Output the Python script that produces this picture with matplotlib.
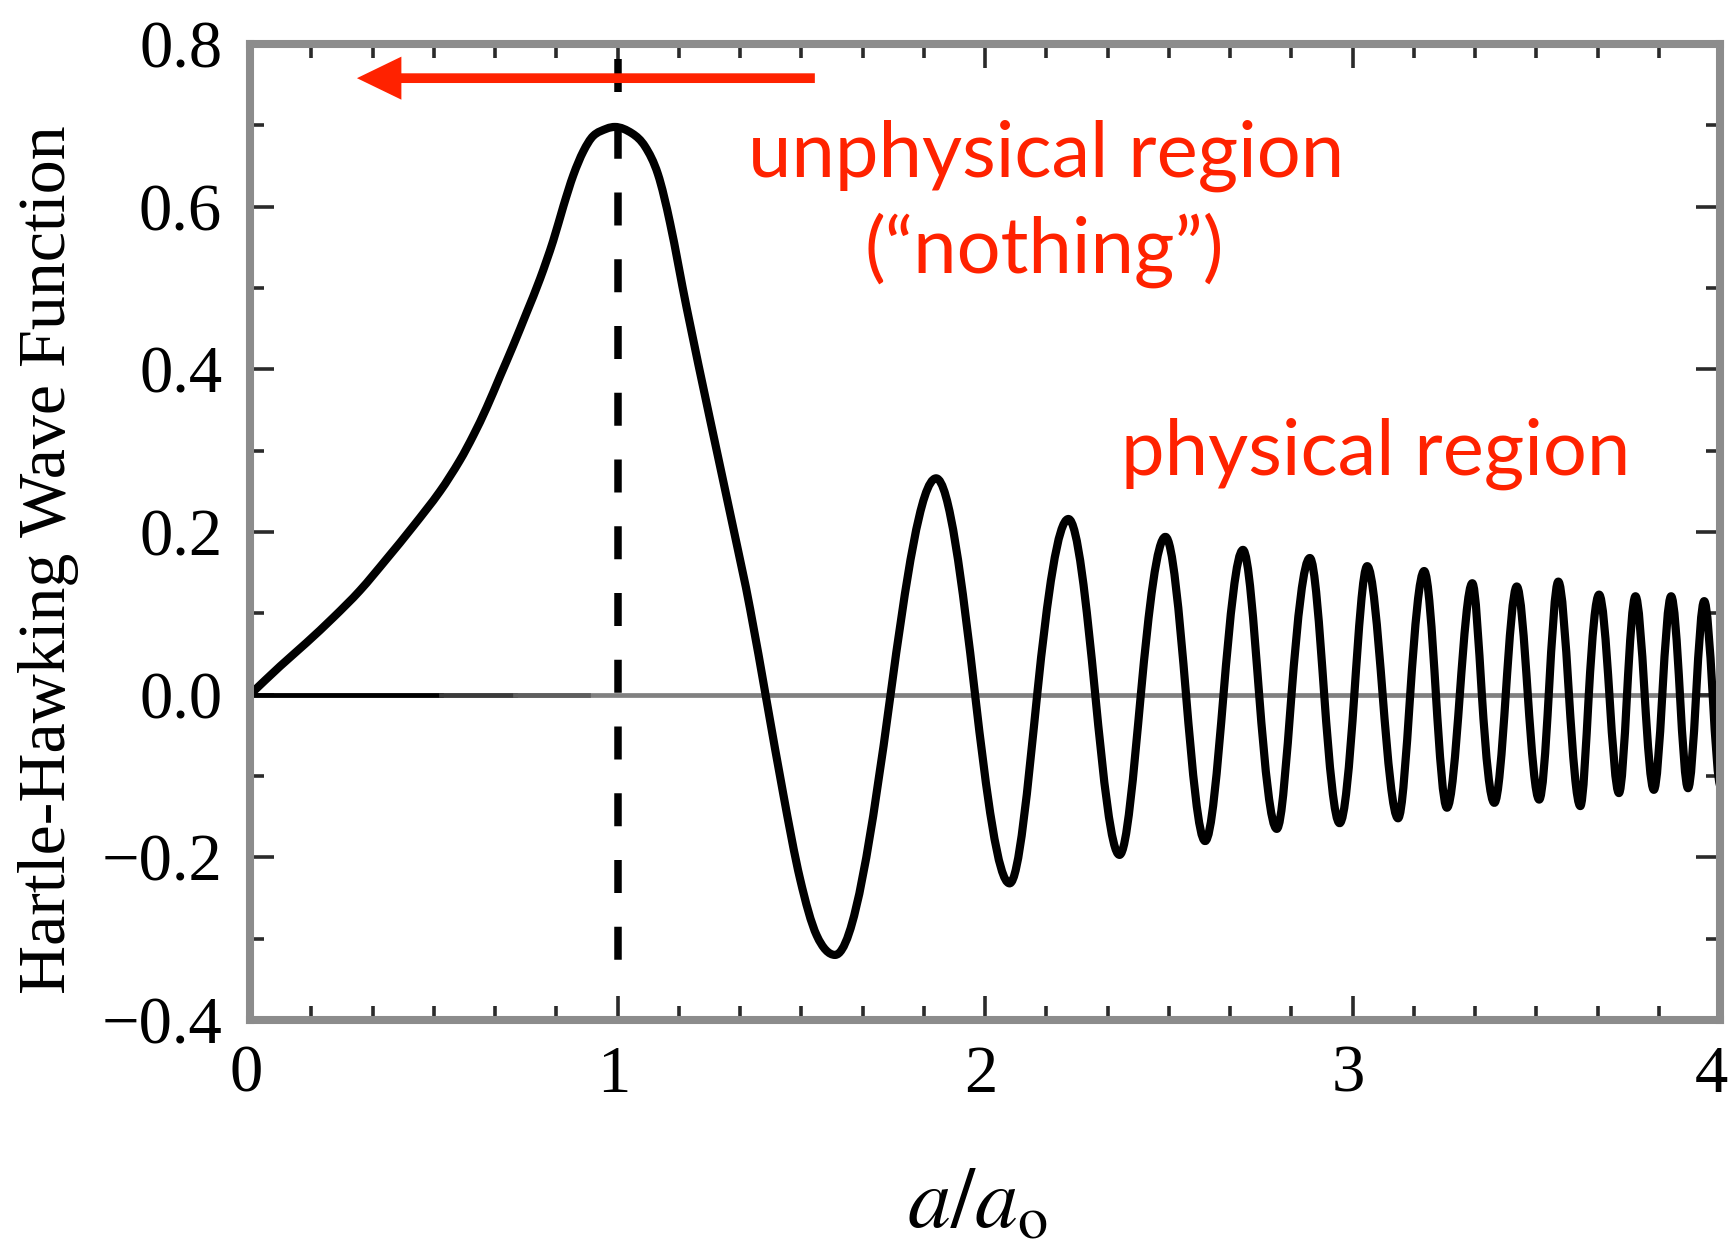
import matplotlib
matplotlib.use("Agg")
import matplotlib.pyplot as plt
from matplotlib.path import Path
from matplotlib.patches import PathPatch, FancyArrowPatch
from matplotlib.ticker import MultipleLocator
from matplotlib.transforms import ScaledTranslation

# values
# first lobe (rise, peak at a = a0, first descent), dense points
lobe_x = [0.000, 0.082, 0.154, 0.227, 0.299, 0.372, 0.444, 0.517, 0.571, 0.608,
          0.644, 0.680, 0.716, 0.753, 0.789, 0.825, 0.853, 0.880, 0.907, 0.934,
          0.971, 0.993, 1.040, 1.075, 1.110, 1.143, 1.188, 1.252, 1.315, 1.361,
          1.451, 1.497, 1.542]
lobe_y = [0.000, 0.035, 0.064, 0.095, 0.128, 0.167, 0.207, 0.250, 0.288, 0.319,
          0.353, 0.391, 0.429, 0.470, 0.511, 0.558, 0.601, 0.639, 0.668, 0.687,
          0.696, 0.698, 0.690, 0.674, 0.640, 0.580, 0.476, 0.338, 0.205, 0.105,
          -0.122, -0.227, -0.296]

# oscillating part: extrema and the zero crossings between them
ext_x = [1.592, 1.867, 2.067, 2.227, 2.366, 2.491, 2.599, 2.702, 2.794, 2.884,
         2.965, 3.040, 3.124, 3.195, 3.257, 3.326, 3.386, 3.447, 3.508, 3.560,
         3.620, 3.671, 3.725, 3.770, 3.820, 3.867, 3.913, 3.957, 4.002]
ext_y = [-0.320, 0.266, -0.232, 0.216, -0.197, 0.194, -0.180, 0.178, -0.165, 0.168,
         -0.158, 0.158, -0.152, 0.152, -0.139, 0.137, -0.133, 0.133, -0.129, 0.139,
         -0.137, 0.123, -0.121, 0.121, -0.117, 0.121, -0.115, 0.115, -0.113]
zero_x = [1.743, 1.973, 2.142, 2.300, 2.424, 2.547, 2.649, 2.746, 2.834, 2.923,
          3.005, 3.082, 3.157, 3.227, 3.292, 3.352, 3.417, 3.477, 3.534, 3.589,
          3.643, 3.699, 3.747, 3.795, 3.843, 3.891, 3.935, 3.980]

xticks = [0, 1, 2, 3, 4]
xtick_labels = ["0", "1", "2", "3", "4"]
yticks = [-0.4, -0.2, 0.0, 0.2, 0.4, 0.6, 0.8]
ytick_labels = ["\u22120.4", "\u22120.2", "0.0", "0.2", "0.4", "0.6", "0.8"]

a0_line = 1.0
arrow_from = (1.537, 0.758)
arrow_to = (0.291, 0.758)

RED = "#ff2200"
FRAME = "#8c8c8c"
# the zero line fades from black to gray along the axis (axes fractions)
zero_fade = [(0.00, 0.13, "black"), (0.13, 0.18, "#3a3a3a"), (0.18, 0.23, "#5e5e5e")]

plt.rcParams["font.family"] = ["Liberation Serif", "DejaVu Serif"]
plt.rcParams["mathtext.fontset"] = "stix"


# join the read points into one smooth path (cubic hermite pieces)
def smooth_path(xs, ys, ks):
    n = len(xs)
    m = []
    for i in range(n):
        if i == 0:
            m.append((ys[1] - ys[0]) / (xs[1] - xs[0]))
        elif i == n - 1:
            m.append(0.0)
        elif (ys[i] - ys[i-1]) * (ys[i+1] - ys[i]) <= 0:
            m.append(0.0)
        else:
            m.append(ks[i] * (ys[i+1] - ys[i-1]) / (xs[i+1] - xs[i-1]))
    verts = [(xs[0], ys[0])]
    codes = [Path.MOVETO]
    for i in range(n - 1):
        dx = xs[i+1] - xs[i]
        verts += [(xs[i] + dx / 3, ys[i] + m[i] * dx / 3),
                  (xs[i+1] - dx / 3, ys[i+1] - m[i+1] * dx / 3),
                  (xs[i+1], ys[i+1])]
        codes += [Path.CURVE4] * 3
    return Path(verts, codes)


node_x = list(lobe_x)
node_y = list(lobe_y)
node_k = [1.0] * len(lobe_x)
for i in range(len(ext_x)):
    node_x.append(ext_x[i])
    node_y.append(ext_y[i])
    node_k.append(1.0)
    if i < len(zero_x):
        node_x.append(zero_x[i])
        node_y.append(0.0)
        node_k.append(1.57)

fig = plt.figure(figsize=(17.28, 12.49), dpi=100)
ax = fig.add_axes([250 / 1728, 1 - 1020 / 1249, 1470 / 1728, 976 / 1249])

ax.axhline(0, color="#808080", lw=3.4, zorder=1.5)
for x0, x1, c in zero_fade:
    ax.axhline(0, xmin=x0, xmax=x1, color=c, lw=3.4, zorder=1.6)

curve = PathPatch(smooth_path(node_x, node_y, node_k), fill=False, edgecolor="black",
                  lw=5.9, capstyle="round", joinstyle="round", zorder=2)
ax.add_patch(curve)

ax.plot([a0_line, a0_line], [0.782, -0.344], color="black", lw=5.4,
        dashes=(4.4, 4.5), zorder=2.2)

arr = FancyArrowPatch(arrow_from, arrow_to,
                      arrowstyle="simple,head_length=32,head_width=31,tail_width=7",
                      mutation_scale=1, color=RED, lw=0, shrinkA=0, shrinkB=0,
                      zorder=3)
ax.add_patch(arr)

red_font = ["Lato", "DejaVu Sans"]
ax.text(2.166, 0.637, "unphysical region", color=RED, family=red_font,
        fontsize=56, ha="center", va="baseline")
ax.text(2.161, 0.519, "(\u201cnothing\u201d)", color=RED, family=red_font,
        fontsize=56, ha="center", va="baseline")
ax.text(3.063, 0.270, "physical region", color=RED, family=red_font,
        fontsize=56, ha="center", va="baseline")

ax.set_xlim(0, 4)
ax.set_ylim(-0.4, 0.8)
ax.set_xticks(xticks, labels=xtick_labels)
ax.set_yticks(yticks, labels=ytick_labels)
ax.xaxis.set_minor_locator(MultipleLocator(1 / 6))
ax.yaxis.set_minor_locator(MultipleLocator(0.1))

ax.tick_params(which="both", direction="in", top=True, right=True,
               color="#2a2a2a", width=2.6, labelsize=48)
ax.tick_params(which="major", length=17)
ax.tick_params(which="minor", length=10)
ax.tick_params(axis="x", pad=18)
ax.tick_params(axis="y", pad=20)

# the reference sets its x labels a little left of the ticks; keep "4" inside
for i, lab in enumerate(ax.get_xticklabels()):
    dx = -9 if i == len(xticks) - 1 else -4
    lab.set_transform(lab.get_transform() + ScaledTranslation(dx / 100, 0, fig.dpi_scale_trans))

for s in ax.spines.values():
    s.set_color(FRAME)
    s.set_linewidth(5.8)

fig.text(48.5 / 1728, 1 - 560 / 1249, "Hartle-Hawking Wave Function",
         rotation=90, ha="center", va="center", fontsize=49)
fig.text(977 / 1728, 1 - 1227 / 1249, r"$a/a_{\mathrm{o}}$",
         ha="center", va="baseline", fontsize=62)

fig.savefig("out.png", dpi=100)
